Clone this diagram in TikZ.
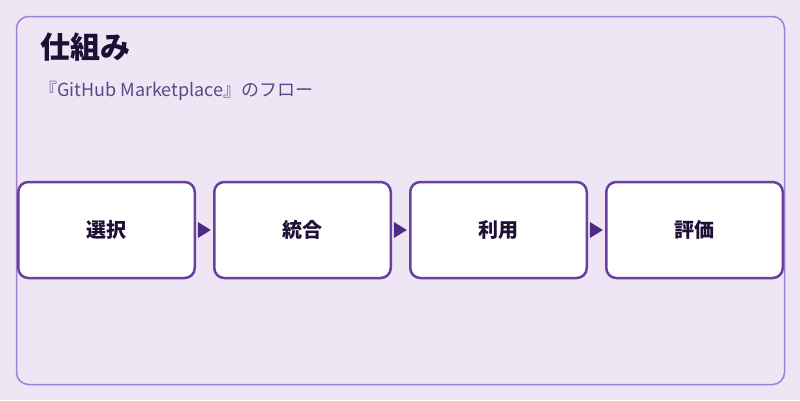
\documentclass[tikz,border=0pt]{standalone}
\usepackage{fontspec}
\setmainfont{Noto Sans CJK JP}
\usetikzlibrary{positioning,arrows.meta}

\definecolor{canvasbg}{HTML}{EEE6F5}
\definecolor{framec}{HTML}{A07FCC}
\definecolor{stagec}{HTML}{6A3FA0}
\definecolor{tipc}{HTML}{4E2A80}
\definecolor{titlec}{HTML}{1E1035}
\definecolor{subc}{HTML}{574A8A}

\begin{document}
\begin{tikzpicture}[
      x=1pt,
      y=-1pt,
      frame/.style={
        draw=framec,
        line width=1.5pt,
        rounded corners=12pt
      },
      stage/.style={
        draw=stagec,
        fill=white,
        line width=2.5pt,
        rounded corners=10pt,
        minimum width=176.5pt,
        minimum height=96pt,
        outer sep=0pt,
        font=\fontsize{20}{24}\selectfont\bfseries,
        text=titlec
      },
      flow/.style={
        -{Triangle[length=13pt,width=16pt]},
        tipc,
        line width=0.5pt,
        shorten <=3pt,
        shorten >=3.5pt
      }
    ]
      \fill[canvasbg] (0,0) rectangle (800,400);
      \useasboundingbox (0,0) rectangle (800,400);
      \draw[frame] (16.5,16.5) rectangle (784.5,384.5);

      \node[anchor=base west,inner sep=0pt,text=titlec,
        font=\fontsize{30}{36}\selectfont\bfseries] (title) at (40,58) {仕組み};
      \node[anchor=base west,inner sep=0pt,text=subc,
        font=\fontsize{18}{22}\selectfont] (subtitle) at (39,96) {『GitHub Marketplace』のフロー};

      \node[stage] (s1) at (106.5,230) {選択};
      \node[stage,right=19.5pt of s1] (s2) {統合};
      \node[stage,right=19.5pt of s2] (s3) {利用};
      \node[stage,right=19.5pt of s3] (s4) {評価};

      \foreach \a/\b in {s1/s2,s2/s3,s3/s4}
        \draw[flow] (\a.east) -- (\b.west);
\end{tikzpicture}
\end{document}
